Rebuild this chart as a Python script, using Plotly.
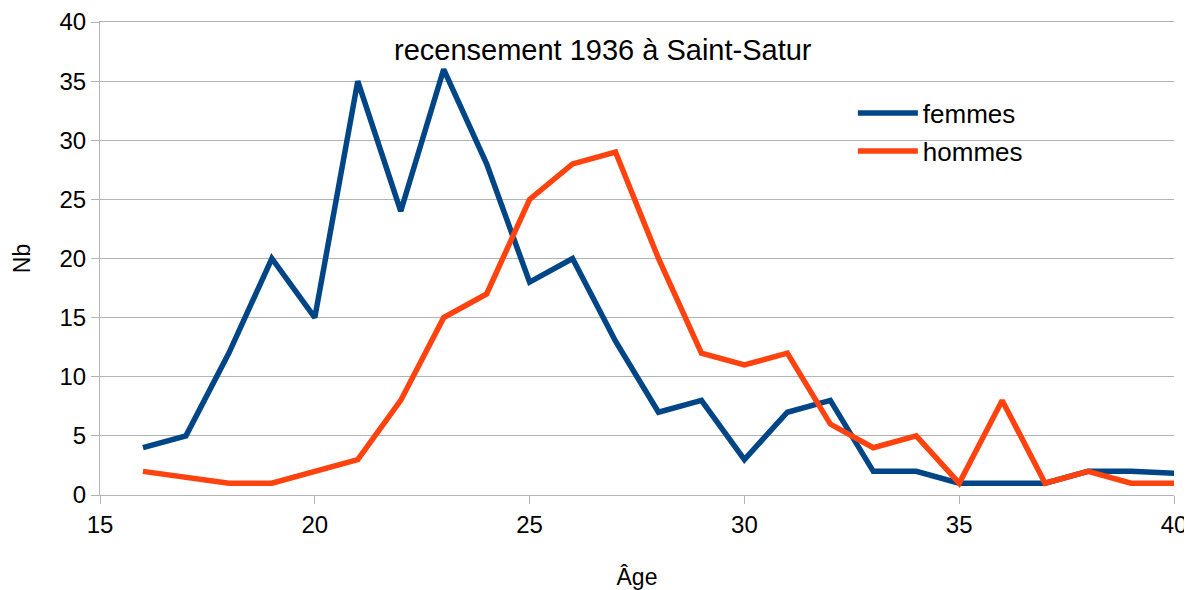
import plotly.graph_objects as go

femmes_age = [16, 17, 18, 19, 20, 21, 22, 23, 24, 25, 26, 27, 28, 29, 30, 31, 32, 33, 34, 35, 36, 37, 38, 39, 45]
femmes_nb = [4, 5, 12, 20, 15, 35, 24, 36, 28, 18, 20, 13, 7, 8, 3, 7, 8, 2, 2, 1, 1, 1, 2, 2, 1]
hommes_age = [16, 18, 19, 20, 21, 22, 23, 24, 25, 26, 27, 28, 29, 30, 31, 32, 33, 34, 35, 36, 37, 38, 39, 40, 41]
hommes_nb = [2, 1, 1, 2, 3, 8, 15, 17, 25, 28, 29, 20, 12, 11, 12, 6, 4, 5, 1, 8, 1, 2, 1, 1, 1]

FONT = "Liberation Sans, Arial, sans-serif"

fig = go.Figure()
fig.add_trace(go.Scatter(x=femmes_age, y=femmes_nb, mode="lines", name="femmes",
                         line=dict(color="#004586", width=5.5), legend="legend"))
fig.add_trace(go.Scatter(x=hommes_age, y=hommes_nb, mode="lines", name="hommes",
                         line=dict(color="#ff420e", width=5.5), legend="legend2"))

leg_common = dict(xanchor="left", yanchor="middle", bgcolor="rgba(0,0,0,0)",
                  font=dict(size=26, family=FONT), itemwidth=60)

fig.update_layout(
    width=1184, height=582,
    margin=dict(l=92, r=18, t=14, b=95, autoexpand=False),
    paper_bgcolor="white", plot_bgcolor="white",
    font=dict(family=FONT, size=24, color="black"),
    showlegend=True,
    legend=dict(x=0.701, y=0.8076, **leg_common),
    legend2=dict(x=0.701, y=0.727, **leg_common),
    annotations=[dict(text="recensement 1936 à Saint-Satur", x=0.468, y=0.94,
                      xref="paper", yref="paper", showarrow=False,
                      font=dict(size=29, family=FONT), xanchor="center", yanchor="middle")],
)
fig.update_xaxes(range=[15, 40], dtick=5, tick0=15, showgrid=False, automargin=False,
                 showline=True, linecolor="#b3b3b3", linewidth=1, mirror=True,
                 ticks="outside", ticklen=8, tickcolor="#b3b3b3",
                 title=dict(text="Âge", font=dict(size=23), standoff=32),
                 zeroline=False)
fig.update_yaxes(range=[0, 40], dtick=5, showgrid=True, gridcolor="#b3b3b3", gridwidth=1,
                 automargin=False,
                 showline=True, linecolor="#b3b3b3", linewidth=1,
                 ticks="outside", ticklen=8, tickcolor="#b3b3b3",
                 title=dict(text="Nb", font=dict(size=23), standoff=22),
                 zeroline=False)

fig.write_html("out.html")
